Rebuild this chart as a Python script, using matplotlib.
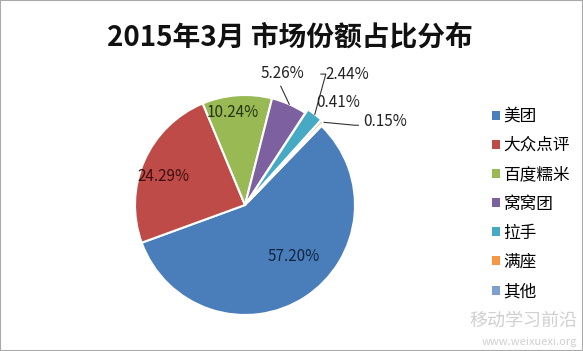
import matplotlib.pyplot as plt
import numpy as np
from matplotlib.patches import Rectangle

plt.rcParams['font.family'] = ['Noto Sans CJK SC', 'DejaVu Sans']

names = ["美团", "大众点评", "百度糯米", "窝窝团", "拉手", "满座", "其他"]
shares = [57.20, 24.29, 10.24, 5.26, 2.44, 0.41, 0.15]
colors = ["#4A7EBB", "#BE4B48", "#98B954", "#7D60A0", "#46AAC5", "#F79646", "#7F9FCF"]
explode = [0, 0, 0, 0, 0.04, 0.04, 0.04]

# label positions relative to the pie (radius = 1)
label_xy = [(0.44, -0.47), (-0.745, 0.255), (-0.11, 0.845), (0.345, 1.20),
            (0.93, 1.19), (0.845, 0.93), (1.27, 0.755)]
label_col = ["#10243F", "#3B0F0E", "#25330F", "#222222", "#222222", "#222222", "#222222"]

fig = plt.figure(figsize=(5.83, 3.51), dpi=100)
fig.patches.append(Rectangle((0, 0), 1, 1, transform=fig.transFigure,
                             fill=False, edgecolor="#AAAAAA", lw=1.5))

cx, cy, r = 245, 205, 110
W, H = 583, 351
ax = fig.add_axes([(cx - r) / W, (H - cy - r) / H, 2 * r / W, 2 * r / H])
wedges, _ = ax.pie(shares, colors=colors, explode=explode, startangle=46,
                   counterclock=False, radius=1,
                   wedgeprops=dict(edgecolor="white", linewidth=1.5))
ax.set_xlim(-1, 1)
ax.set_ylim(-1, 1)
ax.set_aspect("equal")
ax.axis("off")

for i, (w, s) in enumerate(zip(wedges, shares)):
    x, y = label_xy[i]
    ax.text(x, y, "%.2f%%" % s, ha="center", va="center", fontsize=11,
            color=label_col[i], clip_on=False)

def edge_point(w, rr=1.0):
    mid = np.deg2rad((w.theta1 + w.theta2) / 2)
    c = w.center
    return c[0] + rr * np.cos(mid), c[1] + rr * np.sin(mid)

# leader lines
p = edge_point(wedges[3])
ax.plot([p[0], label_xy[3][0] - 0.02], [p[1], label_xy[3][1] - 0.12],
        color="#333333", lw=0.8, clip_on=False)
p = edge_point(wedges[4])
ax.plot([p[0], p[0] + 0.1, label_xy[4][0] - 0.24], [p[1], label_xy[4][1], label_xy[4][1]],
        color="#333333", lw=0.8, clip_on=False)
p = edge_point(wedges[6])
ax.plot([p[0], label_xy[6][0] - 0.27, label_xy[6][0] - 0.24],
        [p[1], label_xy[6][1] - 0.03, label_xy[6][1] - 0.03],
        color="#333333", lw=0.8, clip_on=False)

fig.text(0.497, 0.893, "2015年3月 市场份额占比分布", ha="center", va="center",
         fontsize=20, fontweight="bold", color="#111111")

handles = [Rectangle((0, 0), 1, 1, facecolor=c, edgecolor="none") for c in colors]
fig.legend(handles, names, loc="upper left", bbox_to_anchor=(492 / W, 1 - 108 / H),
           frameon=False, fontsize=12, handlelength=0.45, handleheight=0.45,
           handletextpad=0.25, labelspacing=0.73, borderpad=0, borderaxespad=0)

# faint watermark
fig.text(0.99, 0.085, "移动学习前沿", ha="right", va="center", fontsize=13,
         color="#D0D0D0")
fig.text(0.99, 0.025, "www.weixuexi.org", ha="right", va="center", fontsize=8,
         color="#D0D0D0")

fig.savefig("out.png", dpi=100, facecolor="white")
